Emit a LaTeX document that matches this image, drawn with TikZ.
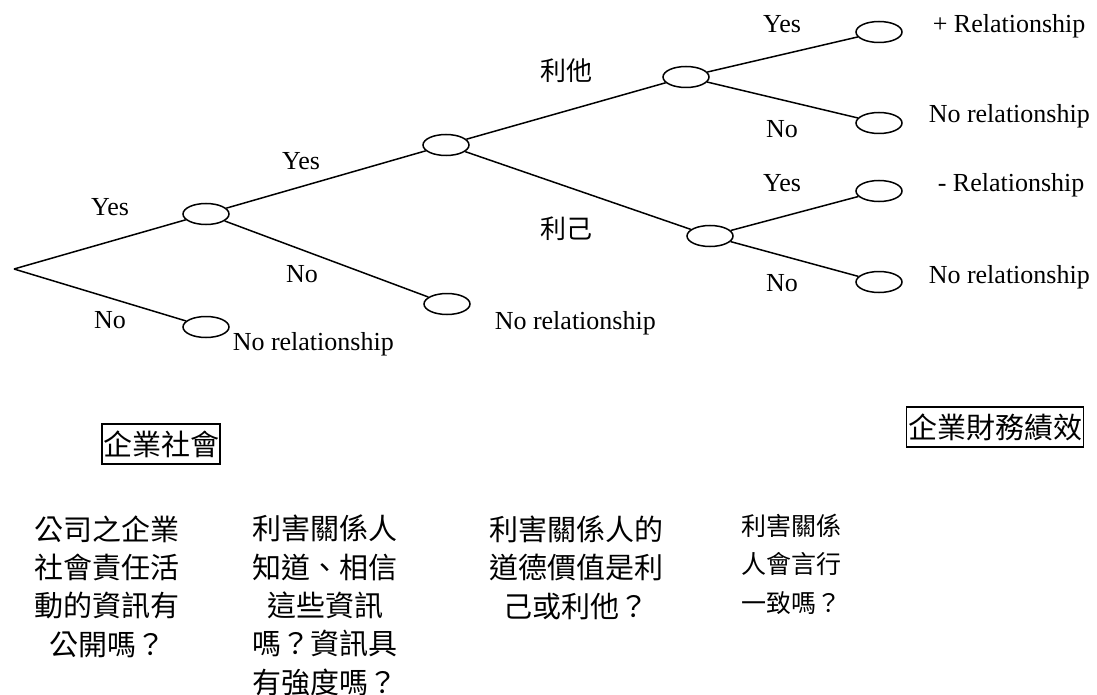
\documentclass[tikz,border=0pt]{standalone}
\usepackage{fontspec}
\setmainfont{Liberation Serif}
\newfontfamily\cjk{Noto Sans CJK TC}
\usetikzlibrary{shapes.geometric}
\begin{document}
\begin{tikzpicture}[x=1pt,y=-1pt,line width=1.5pt,
  st/.style={ellipse,draw,minimum width=46pt,minimum height=21pt,inner sep=0pt},
  lab/.style={font=\fontsize{26}{30}\selectfont,inner sep=0pt,anchor=base},
  res/.style={lab,anchor=base west},
  cjklab/.style={font=\cjk\fontsize{26}{30}\selectfont,inner sep=0pt},
  tbox/.style={draw,line width=1.5pt,font=\cjk\fontsize{29}{34}\selectfont,inner sep=0pt,minimum height=40pt},
  q/.style={align=center,inner sep=0pt,anchor=base}]
\useasboundingbox (0,0) rectangle (1097,695);
% tree nodes
\coordinate (R) at (14,269);
\node[st] (A) at (206,214) {};
\node[st] (N1) at (206,327) {};
\node[st] (B) at (447,304) {};
\node[st] (C) at (446,145) {};
\node[st] (D) at (686,77) {};
\node[st] (E) at (710,236) {};
\node[st] (L1) at (879,32) {};
\node[st] (L2) at (879,123) {};
\node[st] (L3) at (879,191) {};
\node[st] (L4) at (879,282) {};
% connectors
\draw (R) -- (A);
\draw (R) -- (N1);
\draw (A) -- (C);
\draw (A) -- (B);
\draw (C) -- (D);
\draw (C) -- (E);
\draw (D) -- (L1);
\draw (D) -- (L2);
\draw (E) -- (L3);
\draw (E) -- (L4);
% edge labels
\node[lab] (y1) at (110,215) {Yes};
\node[lab] (n1) at (110,328) {No};
\node[lab] (y2) at (301,170) {Yes};
\node[lab] (n2) at (302,282) {No};
\node[cjklab] (alt) at (566,71) {利他};
\node[cjklab] (ego) at (566,229) {利己};
\node[lab] (y3) at (782,33) {Yes};
\node[lab] (n3) at (782,138) {No};
\node[lab] (y4) at (782,192) {Yes};
\node[lab] (n4) at (782,291) {No};
% outcome labels
\node[res] (r0) at (232,350) {No relationship};
\node[res] (r1) at (494,329) {No relationship};
\node[res] (r2) at (932,33) {+ Relationship};
\node[res] (r3) at (928,123) {No relationship};
\node[res] (r4) at (937,192) {- Relationship};
\node[res] (r5) at (928,283) {No relationship};
% boxes
\node[tbox,minimum width=118pt] (csr) at (161,444) {企業社會};
\node[tbox,minimum width=177pt] (cfp) at (995,427) {企業財務績效};
% questions (base anchor = baseline of last line)
\node[q,font=\cjk\fontsize{29}{38.3}\selectfont] (q1) at (107,655) {公司之企業\\社會責任活\\動的資訊有\\公開嗎？};
\node[q,font=\cjk\fontsize{29}{38.3}\selectfont] (q2) at (325,693) {利害關係人\\知道、相信\\這些資訊\\嗎？資訊具\\有強度嗎？};
\node[q,font=\cjk\fontsize{29}{38.3}\selectfont] (q3) at (576,617) {利害關係人的\\道德價值是利\\己或利他？};
\node[q,font=\cjk\fontsize{25}{38.3}\selectfont] (q4) at (791,612) {利害關係\\人會言行\\一致嗎？};
\end{tikzpicture}
\end{document}
